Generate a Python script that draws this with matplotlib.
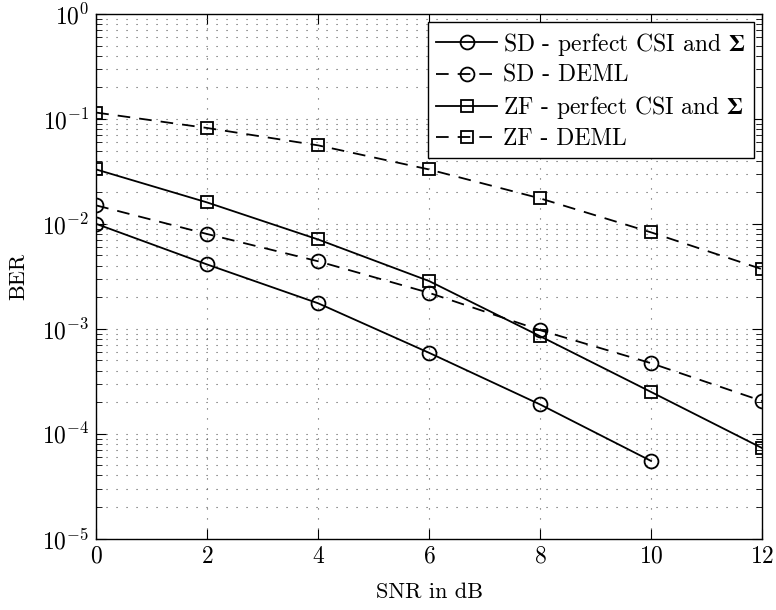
import numpy as np
import matplotlib
matplotlib.use('Agg')
import matplotlib.pyplot as plt
from matplotlib.ticker import LogLocator, NullFormatter

plt.rcParams['font.family'] = 'serif'
plt.rcParams['font.serif'] = ['cmr10']
plt.rcParams['mathtext.fontset'] = 'cm'
plt.rcParams['axes.formatter.use_mathtext'] = True
plt.rcParams['font.size'] = 16

snr = [0, 2, 4, 6, 8, 10, 12]
snr_sd = [0, 2, 4, 6, 8, 10]
sd_perfect = [1.0e-2, 4.1e-3, 1.75e-3, 5.9e-4, 1.9e-4, 5.5e-5]
sd_deml = [1.5e-2, 8.0e-3, 4.4e-3, 2.2e-3, 9.7e-4, 4.7e-4, 2.05e-4]
zf_perfect = [3.3e-2, 1.6e-2, 7.1e-3, 2.85e-3, 8.5e-4, 2.5e-4, 7.3e-5]
zf_deml = [1.15e-1, 8.2e-2, 5.6e-2, 3.3e-2, 1.75e-2, 8.3e-3, 3.7e-3]

labels = [r'SD - perfect CSI and $\mathbf{\Sigma}$',
          'SD - DEML',
          r'ZF - perfect CSI and $\mathbf{\Sigma}$',
          'ZF - DEML']

fig, ax = plt.subplots(figsize=(7.76, 6.10), dpi=100)
fig.subplots_adjust(left=0.124, right=0.982, top=0.977, bottom=0.117)

style = dict(color='black', lw=1.3, mfc='none', mew=1.3)
ax.semilogy(snr_sd, sd_perfect, '-o', ms=10, label=labels[0], **style)
ax.semilogy(snr, sd_deml, '--o', ms=10, label=labels[1], dashes=(7, 5), **style)
ax.semilogy(snr, zf_perfect, '-s', ms=8, label=labels[2], **style)
ax.semilogy(snr, zf_deml, '--s', ms=8, label=labels[3], dashes=(7, 5), **style)

ax.set_xlim(0, 12)
ax.set_ylim(1e-5, 1)
ax.set_xticks(np.arange(0, 13, 2))
ax.yaxis.set_major_locator(LogLocator(base=10, numticks=10))
ax.yaxis.set_minor_locator(LogLocator(base=10, subs=np.arange(2, 10), numticks=20))
ax.yaxis.set_minor_formatter(NullFormatter())
ax.tick_params(which='both', direction='in', top=True, right=True)
ax.tick_params(which='major', length=7, labelsize=17, pad=5)
ax.tick_params(which='minor', length=4)
grid_ls = (0, (1, 8))
ax.grid(True, which='major', ls=grid_ls, color='0.35', lw=0.8)
ax.grid(True, which='minor', axis='y', ls=grid_ls, color='0.35', lw=0.8)
for sp in ax.spines.values():
    sp.set_linewidth(1.0)

ax.set_xlabel('SNR in dB', fontsize=16, labelpad=11)
ax.set_ylabel('BER', fontsize=16, labelpad=10)

leg = ax.legend(loc='upper right', fontsize=17, fancybox=False, edgecolor='black',
                framealpha=1, handlelength=2.6, handletextpad=0.25,
                borderaxespad=0.35, labelspacing=0.3, borderpad=0.35)
leg.get_frame().set_linewidth(1.0)
for t in leg.get_texts():
    t.set_math_fontfamily('stix')

fig.savefig('out.png', dpi=100)
